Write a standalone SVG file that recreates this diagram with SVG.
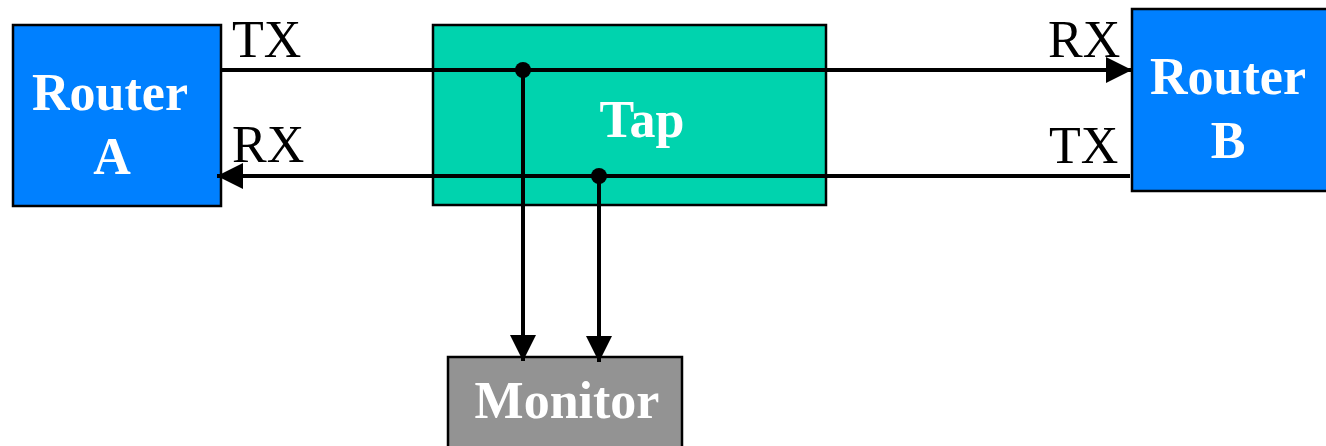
<svg xmlns="http://www.w3.org/2000/svg" width="1326" height="446" viewBox="0 0 1326 446">
  <style>
    .box { stroke: #000; stroke-width: 2.5; }
    .router { fill: #0080ff; }
    .tap { fill: #00d3ae; }
    .monitor { fill: #939393; }
    .name { font-family: "Liberation Serif", "Times New Roman", serif; font-weight: bold; font-size: 52px; fill: #fff; text-anchor: middle; }
    .port { font-family: "Liberation Serif", "Times New Roman", serif; font-size: 52px; fill: #000; }
    .wire { stroke: #000; stroke-width: 4; fill: none; }
  </style>
  <defs>
    <marker id="arrow" viewBox="0 0 26 26" refX="26" refY="13" markerWidth="26" markerHeight="26" markerUnits="userSpaceOnUse" orient="auto">
      <path d="M0,0 L26,13 L0,26 Z" fill="#000"/>
    </marker>
  </defs>
  <rect width="1326" height="446" fill="#fff"/>

  <g id="router-a">
    <rect class="box router" x="13" y="25" width="208" height="181"/>
    <text class="name" x="110" y="110">Router</text>
    <text class="name" x="112" y="174">A</text>
  </g>

  <g id="router-b">
    <rect class="box router" x="1132" y="9" width="200" height="182"/>
    <text class="name" x="1228" y="94">Router</text>
    <text class="name" x="1228" y="158">B</text>
  </g>

  <g id="tap">
    <rect class="box tap" x="433" y="25" width="393" height="180"/>
    <text class="name" x="642" y="137">Tap</text>
  </g>

  <g id="monitor">
    <rect class="box monitor" x="448" y="357" width="234" height="100"/>
    <text class="name" x="567" y="418" font-size="53">Monitor</text>
  </g>

  <g id="port-labels">
    <text class="port" x="232" y="57">TX</text>
    <text class="port" x="232" y="162">RX</text>
    <text class="port" x="1048" y="57">RX</text>
    <text class="port" x="1049" y="163">TX</text>
  </g>

  <g id="connectors">
    <line class="wire" x1="221" y1="70" x2="1132" y2="70" marker-end="url(#arrow)"/>
    <line class="wire" x1="1130" y1="176" x2="217" y2="176" marker-end="url(#arrow)"/>
    <line class="wire" x1="523" y1="70" x2="523" y2="361" marker-end="url(#arrow)"/>
    <line class="wire" x1="599" y1="176" x2="599" y2="362" marker-end="url(#arrow)"/>
    <circle cx="523" cy="70" r="8" fill="#000"/>
    <circle cx="599" cy="176" r="8" fill="#000"/>
  </g>
</svg>
